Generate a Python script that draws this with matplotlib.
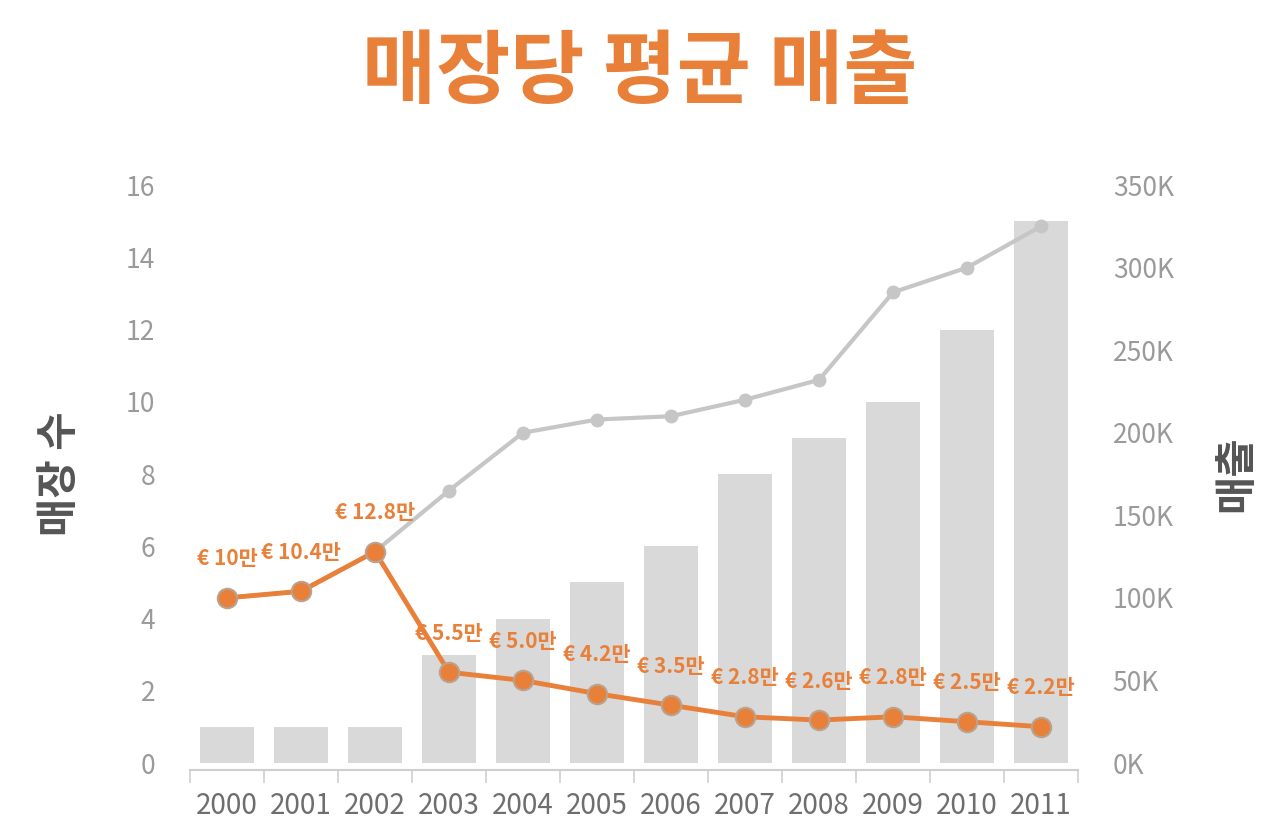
import matplotlib
matplotlib.use("Agg")
import matplotlib.pyplot as plt
from matplotlib.ticker import FuncFormatter, FixedLocator

plt.rcParams['font.family'] = ['Noto Sans CJK KR', 'DejaVu Sans']

# data
years = ['2000', '2001', '2002', '2003', '2004', '2005', '2006', '2007', '2008', '2009', '2010', '2011']
stores = [1, 1, 1, 3, 4, 5, 6, 8, 9, 10, 12, 15]
total_sales = [100000, 104000, 128000, 165000, 200000, 208000, 210000, 220000, 232000, 285000, 300000, 325000]
avg_sales = [100000, 104000, 128000, 55000, 50000, 42000, 35000, 28000, 26000, 28000, 25000, 22000]
avg_labels = ['€ 10만', '€ 10.4만', '€ 12.8만', '€ 5.5만', '€ 5.0만', '€ 4.2만', '€ 3.5만',
              '€ 2.8만', '€ 2.6만', '€ 2.8만', '€ 2.5만', '€ 2.2만']

orange = '#E8803A'
bar_grey = '#D9D9D9'
line_grey = '#C6C6C6'
tick_grey = '#9A9A9A'

fig = plt.figure(figsize=(12.8, 8.32), dpi=100)
ax = fig.add_axes([0.1484, 0.0829, 0.6938, 0.6947])
x = list(range(len(years)))

# bars: store count on left axis
ax.bar(x, stores, width=0.72, color=bar_grey, zorder=1)
ax.set_xlim(-0.5, 11.5)
ax.set_ylim(0, 16)
ax.set_yticks(range(0, 17, 2))
ax.set_xticks(x)
ax.set_xticklabels(years)
ax.xaxis.set_minor_locator(FixedLocator([i - 0.5 for i in range(len(years) + 1)]))
ax.tick_params(axis='x', which='major', length=0, pad=15, labelsize=20, labelcolor='#6E6E6E')
ax.tick_params(axis='x', which='minor', length=9, width=1.2, color='#CFCFCF')
ax.tick_params(axis='y', length=0, pad=25, labelsize=19, labelcolor=tick_grey)
for s in ['top', 'right', 'left']:
    ax.spines[s].set_visible(False)
ax.spines['bottom'].set_color('#CFCFCF')
ax.spines['bottom'].set_linewidth(1.5)
ax.spines['bottom'].set_position(('outward', 5))
ax.set_ylabel('매장 수', fontsize=30, fontweight='bold', color='#555555', labelpad=32)

# lines: sales on right axis
ax2 = ax.twinx()
ax2.set_ylim(0, 350000)
ax2.set_yticks(range(0, 350001, 50000))
ax2.yaxis.set_major_formatter(FuncFormatter(lambda v, p: f'{int(v / 1000)}K'))
ax2.tick_params(axis='y', length=0, pad=25, labelsize=19, labelcolor=tick_grey)
for s in ['top', 'right', 'left', 'bottom']:
    ax2.spines[s].set_visible(False)
ax2.set_ylabel('매출', fontsize=30, fontweight='bold', color='#555555', labelpad=30, rotation=90)

ax2.plot(x, total_sales, color=line_grey, lw=3, marker='o', markersize=9,
         markerfacecolor=line_grey, markeredgecolor=line_grey, zorder=2)
ax2.plot(x, avg_sales, color=orange, lw=3.5, marker='o', markersize=14,
         markerfacecolor=orange, markeredgecolor='#B9A38F', markeredgewidth=1.5, zorder=3)

for xi, v, lab in zip(x, avg_sales, avg_labels):
    ax2.annotate(lab, (xi, v), xytext=(0, 28), textcoords='offset points',
                 ha='center', va='center', fontsize=15, fontweight='bold', color=orange)

fig.text(0.5, 0.912, '매장당 평균 매출', ha='center', va='center',
         fontsize=58, fontweight='bold', color=orange)

fig.savefig('out.png', dpi=100, facecolor='white')
